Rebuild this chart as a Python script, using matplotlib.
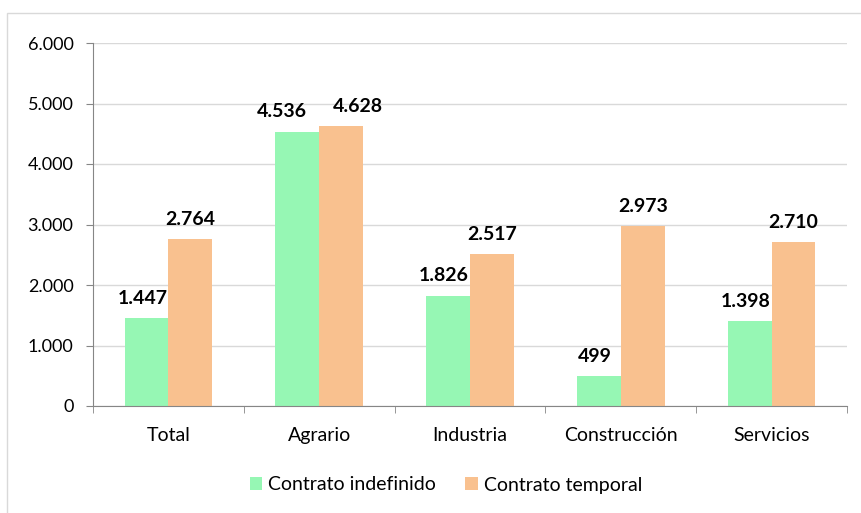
import matplotlib
matplotlib.use("Agg")
import matplotlib.pyplot as plt
from matplotlib.patches import Rectangle
from matplotlib.ticker import FuncFormatter, MultipleLocator
import numpy as np

plt.rcParams['font.family'] = ['Lato', 'DejaVu Sans']

categories = ["Total", "Agrario", "Industria", "Construcción", "Servicios"]
indefinido = [1447, 4536, 1826, 499, 1398]
temporal = [2764, 4628, 2517, 2973, 2710]
series_names = ["Contrato indefinido", "Contrato temporal"]
colors = ["#96f7b4", "#f9c18f"]

W, H = 862, 513
fig = plt.figure(figsize=(W/100, H/100), dpi=100)
fig.patches.append(Rectangle((7/W, -0.1), 1.2, 1 - 13/H + 0.1, transform=fig.transFigure,
                             fill=False, edgecolor="#d9d9d9", linewidth=1))

ax = fig.add_axes([93/W, 1 - 406/H, (847-93)/W, (406-43)/H])
x = np.arange(len(categories))
bw = 0.29
b1 = ax.bar(x - bw/2, indefinido, bw, color=colors[0], label=series_names[0])
b2 = ax.bar(x + bw/2, temporal, bw, color=colors[1], label=series_names[1])

fmt = lambda v: f"{int(v):,}".replace(",", ".")
for i, (a, b) in enumerate(zip(indefinido, temporal)):
    close = abs(a - b) < 400
    for r, v, dx in ((b1[i], a, -11 if close else -3), (b2[i], b, 12 if close else 0)):
        ax.annotate(fmt(v), (r.get_x() + r.get_width()/2, v), xytext=(dx, 8),
                    textcoords="offset points", ha="center", va="bottom",
                    fontsize=14, fontweight="bold")

ax.set_ylim(0, 6000)
ax.set_xlim(-0.5, len(categories) - 0.5)
ax.yaxis.set_major_locator(MultipleLocator(1000))
ax.yaxis.set_major_formatter(FuncFormatter(lambda v, p: fmt(v)))
ax.grid(axis="y", color="#d9d9d9", linewidth=1)
ax.set_axisbelow(True)
for s in ("top", "right"):
    ax.spines[s].set_visible(False)
for s in ("left", "bottom"):
    ax.spines[s].set_color("#868686")
ax.set_xticks(x)
ax.set_xticklabels(categories)
ax.set_xticks(np.arange(len(categories) + 1) - 0.5, minor=True)
ax.tick_params(axis="x", which="major", length=0, pad=15, labelsize=14)
ax.tick_params(axis="x", which="minor", length=5, color="#868686")
ax.tick_params(axis="y", length=5, color="#868686", labelsize=13, pad=9)

fig.legend(handles=[b1, b2], labels=series_names, loc="center", bbox_to_anchor=(446/W, 1 - 485/H),
           ncol=2, frameon=False, fontsize=14, handlelength=0.65, handleheight=0.65,
           handletextpad=0.3, columnspacing=1.5)

fig.savefig("out.png", dpi=100)
